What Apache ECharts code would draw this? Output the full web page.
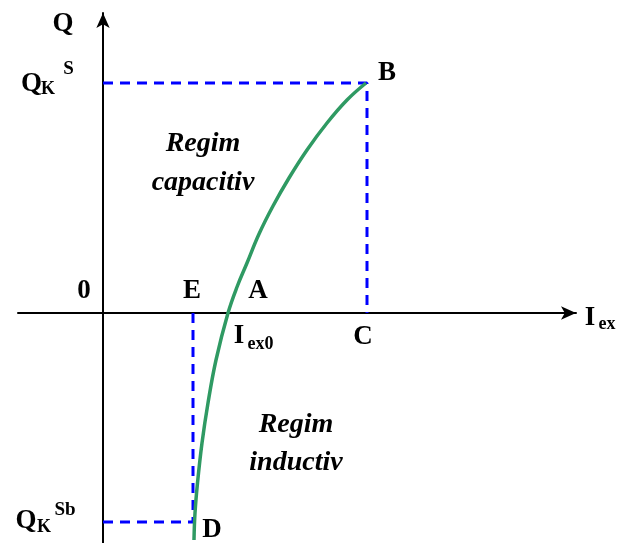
<!DOCTYPE html>
<html><head><meta charset="utf-8">
<script src="https://cdn.jsdelivr.net/npm/echarts@6/dist/echarts.min.js"></script>
<style>html,body{margin:0;padding:0;background:#fff}#c{width:618px;height:543px}</style>
</head><body><div id="c"></div>
<script>
// Excitation current and reactive power along the characteristic, from D up through A to B
const curveIex = [9.1, 9.2, 9.45, 9.9, 10.5, 11.3, 12.5, 13.4, 14.4, 15.6, 17.0, 18.6, 20.4, 22.4, 24.4, 26.3];
const curveQ   = [-22.7, -20.0, -17.0, -13.0, -9.0, -4.7, 0, 2.6, 5.0, 7.9, 10.7, 13.5, 16.3, 19.0, 21.3, 23.0];

// Limit levels
const QKS = 23.0;    // Q_K^S  (point B)
const QKSb = -20.9;  // Q_K^Sb (point D)
const IexC = 26.4;   // abscissa of C
const IexE = 9.0;    // abscissa of E

// Text labels: anchor x, anchor y, text, style
const labelX = [-4.0, -7.15, -5.5, -3.45, 28.4, 10.0, 10.0, -1.9, 8.9, 15.5, 13.6, 15.75, 26.0, 48.7, 50.4, 19.3, 19.3, -7.7, -5.9, -3.8, 10.9];
const labelY = [28.9, 22.9, 22.4, 24.4, 24.0, 16.95, 13.05, 2.2, 2.15, 2.15, -2.35, -3.1, -2.45, -0.5, -1.1, -11.2, -14.95, -20.8, -21.4, -19.7, -21.7];
const labelText = ['Q', 'Q', 'K', 'S', 'B', 'Regim', 'capacitiv', '0', 'E', 'A', 'I', 'ex0', 'C', 'I', 'ex', 'Regim', 'inductiv', 'Q', 'K', 'Sb', 'D'];
const labelStyle = ['big', 'big', 'sub', 'sup', 'big', 'ital', 'ital', 'big', 'big', 'big', 'big', 'sub', 'big', 'big', 'sub', 'ital', 'ital', 'big', 'sub', 'sup', 'big'];

const fonts = {
  big:  'bold 27px "Liberation Serif", serif',
  sub:  'bold 18px "Liberation Serif", serif',
  sup:  'bold 19px "Liberation Serif", serif',
  ital: 'italic bold 28px "Liberation Serif", serif'
};

const axisCommon = {
  type: 'value',
  axisLine: {
    onZero: true,
    symbol: ['none', 'arrow'],
    symbolSize: [10, 15],
    lineStyle: { color: '#000', width: 2 }
  },
  axisTick: { show: false },
  axisLabel: { show: false },
  splitLine: { show: false }
};

const dashStyle = { color: '#0000ff', width: 3, type: [10, 7] };

const chart = echarts.init(document.getElementById('c'), null, { renderer: 'canvas' });
chart.setOption({
  animation: false,
  backgroundColor: '#fff',
  grid: { left: 18, right: 42, top: 13, bottom: 0 },
  xAxis: Object.assign({ min: -8.5, max: 47.3 }, axisCommon),
  yAxis: Object.assign({ min: -23, max: 30 }, axisCommon),
  series: [
    {
      type: 'line',
      data: [[0, QKS], [IexC, QKS], [IexC, 0]],
      symbol: 'none',
      lineStyle: dashStyle,
      z: 2
    },
    {
      type: 'line',
      data: [[0, QKSb], [IexE, QKSb], [IexE, 0]],
      symbol: 'none',
      lineStyle: dashStyle,
      z: 2
    },
    {
      type: 'line',
      data: curveIex.map((x, i) => [x, curveQ[i]]),
      smooth: 0.4,
      symbol: 'none',
      lineStyle: { color: '#2f9a63', width: 3.5 },
      z: 3
    },
    {
      type: 'custom',
      silent: true,
      clip: false,
      z: 4,
      data: labelX.map((x, i) => [x, labelY[i], i]),
      renderItem: function (params, api) {
        const i = api.value(2);
        const p = api.coord([api.value(0), api.value(1)]);
        return {
          type: 'text',
          x: p[0],
          y: p[1],
          style: {
            text: labelText[i],
            font: fonts[labelStyle[i]],
            fill: '#000',
            align: 'center',
            verticalAlign: 'middle'
          }
        };
      }
    }
  ]
});
</script>
</body></html>
